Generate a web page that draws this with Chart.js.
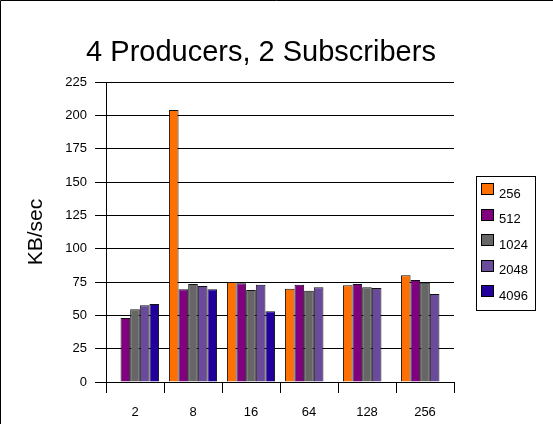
<!DOCTYPE html>
<html>
<head>
<meta charset="utf-8">
<script src="https://cdn.jsdelivr.net/npm/chart.js@4"></script>
<style>
  html, body { margin: 0; padding: 0; background: #fff; }
  canvas { display: block; }
</style>
</head>
<body>
<canvas id="c" width="553" height="424"></canvas>
<script>
const categories = ["2", "8", "16", "64", "128", "256"];
const seriesNames = ["256", "512", "1024", "2048", "4096"];
const s256  = [0, 204, 75, 70, 72.5, 80];
const s512  = [48, 69.5, 74, 73, 73.5, 76.5];
const s1024 = [54.5, 73.5, 69, 68.5, 71, 74.5];
const s2048 = [57.5, 72, 73, 71, 70.5, 66];
const s4096 = [58.5, 69.5, 53, null, null, null];
const seriesColors = ["#FF7000", "#800080", "#666666", "#6A4A9A", "#22009C"];
const titleText = "4 Producers, 2 Subscribers";
const yTitle = "KB/sec";

const FONT = "'Liberation Sans', Arial, sans-serif";
const allSeries = [s256, s512, s1024, s2048, s4096];

const frameAndExtras = {
  id: 'frameAndExtras',
  beforeDraw(chart) {
    const ctx = chart.ctx;
    ctx.save();
    ctx.fillStyle = '#fff';
    ctx.fillRect(0, 0, chart.width, chart.height);
    ctx.strokeStyle = '#000';
    ctx.lineWidth = 1;
    ctx.beginPath();
    ctx.moveTo(0.5, chart.height);
    ctx.lineTo(0.5, 0.5);
    ctx.lineTo(chart.width, 0.5);
    ctx.stroke();
    ctx.restore();
  },
  afterDraw(chart) {
    const ctx = chart.ctx;
    ctx.save();
    // title
    ctx.fillStyle = '#000';
    ctx.font = "29px " + FONT;
    ctx.textAlign = 'center';
    ctx.textBaseline = 'middle';
    ctx.fillText(titleText, 261, 53);
    // legend
    ctx.strokeStyle = '#000';
    ctx.lineWidth = 1;
    ctx.strokeRect(476.5, 176.5, 59, 134);
    ctx.font = "13px " + FONT;
    ctx.textAlign = 'left';
    chart.data.datasets.forEach((ds, i) => {
      const y = 183 + i * 25.6;
      ctx.fillStyle = ds.backgroundColor;
      ctx.fillRect(481, Math.round(y), 13, 12);
      ctx.strokeStyle = '#000';
      ctx.strokeRect(481.5, Math.round(y) + 0.5, 12, 11);
      ctx.fillStyle = '#000';
      ctx.fillText(ds.label, 499, y + 11);
    });
    ctx.restore();
  }
};

new Chart(document.getElementById('c'), {
  type: 'bar',
  data: {
    labels: categories,
    datasets: seriesNames.map((n, i) => ({
      label: n,
      data: allSeries[i],
      backgroundColor: seriesColors[i],
      borderColor: '#111',
      borderWidth: 1,
      categoryPercentage: 0.83,
      barPercentage: 1.0
    }))
  },
  options: {
    responsive: false,
    animation: false,
    devicePixelRatio: 1,
    layout: { padding: { left: 0, right: 99, top: 82, bottom: 0 } },
    plugins: {
      legend: { display: false },
      title: { display: false },
      tooltip: { enabled: false }
    },
    scales: {
      x: {
        offset: true,
        grid: { offset: true, drawOnChartArea: false, drawTicks: true, tickLength: 11, color: '#000', lineWidth: 1 },
        border: { color: '#000', width: 1 },
        ticks: { color: '#000', font: { family: FONT, size: 13 }, padding: 12 },
        afterFit(scale) { scale.height = 42; }
      },
      y: {
        min: 0, max: 225,
        ticks: { stepSize: 25, color: '#000', font: { family: FONT, size: 13 }, padding: 8 },
        grid: { color: '#000', lineWidth: 1, tickLength: 11, drawTicks: true },
        border: { color: '#000', width: 1 },
        title: { display: true, text: yTitle, color: '#000', font: { family: FONT, size: 21 }, padding: { top: 24, bottom: 0 } },
        afterFit(scale) { scale.width = 106; }
      }
    }
  },
  plugins: [frameAndExtras]
});
</script>
</body>
</html>
